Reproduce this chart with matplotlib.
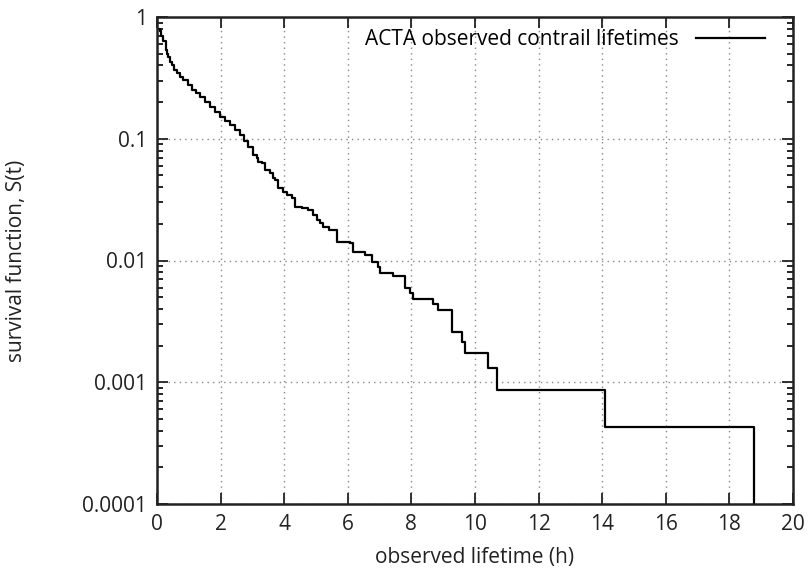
import matplotlib
matplotlib.use("Agg")
import matplotlib.pyplot as plt
from matplotlib.ticker import FixedLocator, FixedFormatter, LogLocator, NullFormatter

# ---- data ----
lifetime_h = [0.00, 0.09, 0.14, 0.20, 0.27, 0.32, 0.36, 0.41, 0.46, 0.54,
              0.62, 0.72, 0.83, 0.96, 1.09, 1.22, 1.35, 1.51, 1.67, 1.82,
              1.98, 2.14, 2.30, 2.45, 2.61, 2.74, 2.87, 3.03, 3.13, 3.19,
              3.29, 3.40, 3.55, 3.66, 3.71, 3.81, 3.97, 4.08, 4.24, 4.34,
              4.55, 4.76, 4.90, 5.02, 5.13, 5.23, 5.40, 5.65, 6.07, 6.17,
              6.54, 6.75, 6.96, 7.01, 7.43, 7.80, 7.96, 8.06, 8.67, 8.85,
              9.27, 9.58, 9.69, 10.42, 10.68, 14.09, 18.77]
survival = [0.80, 0.77, 0.70, 0.63, 0.54, 0.50, 0.47, 0.43, 0.40, 0.37,
            0.344, 0.323, 0.304, 0.277, 0.251, 0.236, 0.222, 0.201, 0.183, 0.167,
            0.152, 0.141, 0.130, 0.118, 0.107, 0.096, 0.086, 0.0736, 0.069, 0.0648,
            0.0628, 0.0553, 0.0520, 0.0473, 0.0458, 0.0392, 0.0367, 0.0345, 0.0324, 0.0277,
            0.0268, 0.0260, 0.0236, 0.0215, 0.0202, 0.0190, 0.0178, 0.0143, 0.0138, 0.0118,
            0.0111, 0.0098, 0.0089, 0.00785, 0.00746, 0.00592, 0.00537, 0.00479, 0.00440, 0.00392,
            0.00260, 0.00215, 0.00173, 0.00130, 0.000863, 0.000431, 0.0]
series_label = "ACTA observed contrail lifetimes"

x_ticks = [0, 2, 4, 6, 8, 10, 12, 14, 16, 18, 20]
y_ticks = [1e-4, 1e-3, 1e-2, 1e-1, 1]
y_tick_labels = ["0.0001", "0.001", "0.01", "0.1", "1"]
x_label = "observed lifetime (h)"
y_label = "survival function, S(t)"

plt.rcParams['font.family'] = ['Open Sans', 'DejaVu Sans']

fig = plt.figure(figsize=(8.08, 5.74), dpi=100)
ax = fig.add_axes([157/808, 1-504/574, (793-157)/808, (504-17)/574])

ax.step(lifetime_h, survival, where='post', color='black', lw=1.6, label=series_label)

ax.set_yscale('log', nonpositive='clip')
ax.set_xlim(0, 20)
ax.set_ylim(1e-4, 1)

ax.xaxis.set_major_locator(FixedLocator(x_ticks))
ax.set_xticklabels([str(t) for t in x_ticks])
ax.yaxis.set_major_locator(FixedLocator(y_ticks))
ax.yaxis.set_major_formatter(FixedFormatter(y_tick_labels))
ax.yaxis.set_minor_locator(LogLocator(base=10, subs=range(2, 10), numticks=20))
ax.yaxis.set_minor_formatter(NullFormatter())

ax.tick_params(which='major', direction='in', length=8, width=1.3,
               top=True, right=True, labelsize=15, pad=7, colors='#222222')
ax.tick_params(which='minor', direction='in', length=4.5, width=1.2,
               top=True, right=True)

ax.grid(True, which='major', color='#888888', linestyle=(0, (1, 3)), linewidth=1.0)

for s in ax.spines.values():
    s.set_linewidth(1.8)
    s.set_color('#222222')

ax.set_xlabel(x_label, fontsize=15, labelpad=9, color='#222222')
ax.set_ylabel(y_label, fontsize=15, labelpad=40, color='#222222')

leg = ax.legend(loc='upper right', frameon=False, markerfirst=False,
                fontsize=15, handlelength=3.3, borderaxespad=0.2,
                handletextpad=0.8, bbox_to_anchor=(0.975, 1.0))

fig.savefig("out.png", dpi=100)
